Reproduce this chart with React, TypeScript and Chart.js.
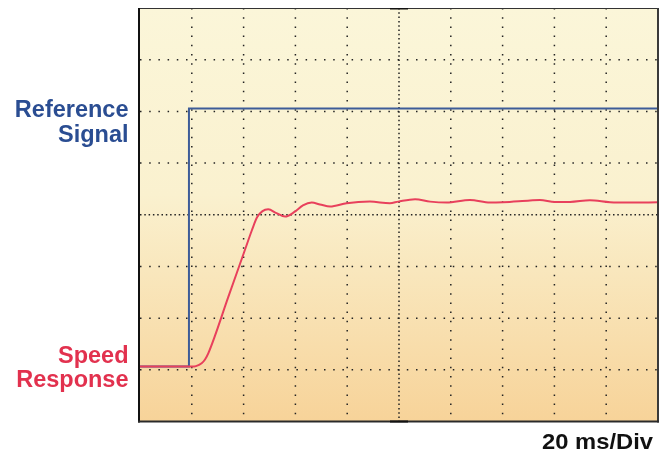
import React, { useEffect, useRef } from "react";
import { Chart, registerables } from "chart.js";

Chart.register(...registerables);

// Time in ms (20 ms per division, 10 divisions)
const speedTime = [
  0, 20.1, 21.6, 23.8, 25.1, 26.4, 34.1, 40.5, 43.2, 45.2, 47.3, 49.5, 52.7,
  56.0, 59.8, 62.9, 66.3, 69.5, 73.4, 79.8, 88.8, 96.5, 99.7, 106.2, 112.0, 118.4,
  127.4, 135.1, 140.2, 150.6, 154.4, 160.2, 166.0, 173.7, 181.5, 189.2, 200,
];
// Vertical position in divisions (0 = bottom, 8 = top)
const speedValue = [
  1.063, 1.063, 1.072, 1.128, 1.2, 1.322, 2.41, 3.318, 3.7, 3.95, 4.07, 4.105,
  4.03, 3.964, 4.06, 4.18, 4.235, 4.2, 4.158, 4.223, 4.254, 4.223, 4.254, 4.3, 4.254,
  4.235, 4.287, 4.235, 4.242, 4.277, 4.287, 4.248, 4.248, 4.28, 4.242, 4.235, 4.242,
];

const referenceTime = [0, 18.9, 18.9, 200];
const referenceValue = [1.063, 1.063, 6.056, 6.056];

const xGridValues = [0, 20, 40, 60, 80, 100, 120, 140, 160, 180, 200];
const yGridValues = [0, 1, 2, 3, 4, 5, 6, 7, 8];
const xCenter = 100;
const yCenter = 4;

const referenceLabel = ["Reference", "Signal"];
const speedLabel = ["Speed", "Response"];
const scaleLabel = "20 ms/Div";

const REF_COLOR = "#3d5c98";
const SPEED_COLOR = "#e8405c";
const REF_TEXT = "#2a4d92";
const SPEED_TEXT = "#e2314e";

const scopePlugin = {
  id: "scope",
  beforeDatasetsDraw(chart: any) {
    const { ctx, chartArea, scales } = chart;
    const { left, right, top, bottom } = chartArea;
    ctx.save();
    const g = ctx.createLinearGradient(0, top, 0, bottom);
    g.addColorStop(0, "#fbf6d9");
    g.addColorStop(0.45, "#faf1cf");
    g.addColorStop(1, "#f7d399");
    ctx.fillStyle = g;
    ctx.fillRect(left, top, right - left, bottom - top);

    ctx.strokeStyle = "#222";
    ctx.lineWidth = 1.5;
    ctx.lineCap = "butt";
    xGridValues.forEach((v) => {
      if (v === 0 || v === 200) return;
      const x = scales.x.getPixelForValue(v);
      ctx.setLineDash(v === xCenter ? [1.5, 2.8] : [1.5, 7.7]);
      ctx.beginPath();
      ctx.moveTo(x, top);
      ctx.lineTo(x, bottom);
      ctx.stroke();
    });
    yGridValues.forEach((v) => {
      if (v === 0 || v === 8) return;
      const y = scales.y.getPixelForValue(v);
      ctx.setLineDash(v === yCenter ? [1.5, 2.8] : [1.5, 7.7]);
      ctx.beginPath();
      ctx.moveTo(left, y);
      ctx.lineTo(right, y);
      ctx.stroke();
    });
    ctx.restore();
  },
  afterDatasetsDraw(chart: any) {
    const { ctx, chartArea, scales } = chart;
    const { left, right, top, bottom } = chartArea;
    ctx.save();
    ctx.setLineDash([]);
    ctx.strokeStyle = "#333";
    ctx.lineWidth = 1;
    ctx.beginPath();
    ctx.moveTo(left - 2, top + 0.5);
    ctx.lineTo(right + 1, top + 0.5);
    ctx.stroke();
    ctx.strokeStyle = "#3a3a3a";
    ctx.lineWidth = 2;
    ctx.beginPath();
    ctx.moveTo(right, top);
    ctx.lineTo(right, bottom + 1);
    ctx.stroke();
    ctx.strokeStyle = "#111";
    ctx.beginPath();
    ctx.moveTo(left - 1, top);
    ctx.lineTo(left - 1, bottom + 1);
    ctx.stroke();
    ctx.strokeStyle = "#2a2a2a";
    ctx.beginPath();
    ctx.moveTo(left - 2, bottom);
    ctx.lineTo(right + 1, bottom);
    ctx.stroke();
    const xc = scales.x.getPixelForValue(xCenter);
    ctx.fillStyle = "#111";
    ctx.fillRect(xc - 9, top, 18, 1.5);
    ctx.fillRect(xc - 9, bottom - 1, 18, 2);

    ctx.textAlign = "right";
    ctx.textBaseline = "alphabetic";
    ctx.font = "bold 23.5px 'Liberation Sans', Arial, sans-serif";
    const yRef = scales.y.getPixelForValue(referenceValue[3]);
    ctx.fillStyle = REF_TEXT;
    ctx.fillText(referenceLabel[0], 128.5, yRef + 8.7);
    ctx.fillText(referenceLabel[1], 128.5, yRef + 33.5);
    const ySpd = scales.y.getPixelForValue(speedValue[0]);
    ctx.fillStyle = SPEED_TEXT;
    ctx.fillText(speedLabel[0], 128.5, ySpd - 3.5);
    ctx.fillText(speedLabel[1], 128.5, ySpd + 20.5);

    ctx.fillStyle = "#111";
    ctx.font = "bold 21.5px 'Liberation Sans', Arial, sans-serif";
    const w = ctx.measureText(scaleLabel).width;
    const sx = 111 / w;
    ctx.translate(653, 448.5);
    ctx.scale(sx, 1);
    ctx.fillText(scaleLabel, 0, 0);
    ctx.restore();
  },
};

export default function App() {
  const canvasRef = useRef<HTMLCanvasElement | null>(null);

  useEffect(() => {
    const canvas = canvasRef.current;
    if (!canvas) return;
    const chart = new Chart(canvas, {
      type: "line",
      data: {
        datasets: [
          {
            label: "Speed Response",
            data: speedTime.map((t, i) => ({ x: t, y: speedValue[i] })),
            borderColor: SPEED_COLOR,
            borderWidth: 2,
            pointRadius: 0,
            cubicInterpolationMode: "monotone",
            fill: false,
            order: 0,
          },
          {
            label: "Reference Signal",
            data: referenceTime.map((t, i) => ({ x: t, y: referenceValue[i] })),
            borderColor: REF_COLOR,
            borderWidth: 2,
            pointRadius: 0,
            tension: 0,
            fill: false,
            order: 1,
          },
        ],
      },
      options: {
        animation: false,
        responsive: false,
        devicePixelRatio: 1,
        layout: { padding: { left: 140, right: 7, top: 8, bottom: 32.5 } },
        plugins: {
          legend: { display: false },
          tooltip: { enabled: false },
          title: { display: false },
        },
        scales: {
          x: { type: "linear", min: 0, max: 200, display: false },
          y: { type: "linear", min: 0, max: 8, display: false },
        },
      },
      plugins: [scopePlugin],
    });
    return () => chart.destroy();
  }, []);

  return (
    <div style={{ position: "fixed", left: 0, top: 0, width: 665, height: 454, background: "#fff" }}>
      <canvas ref={canvasRef} width={665} height={454} />
    </div>
  );
}
